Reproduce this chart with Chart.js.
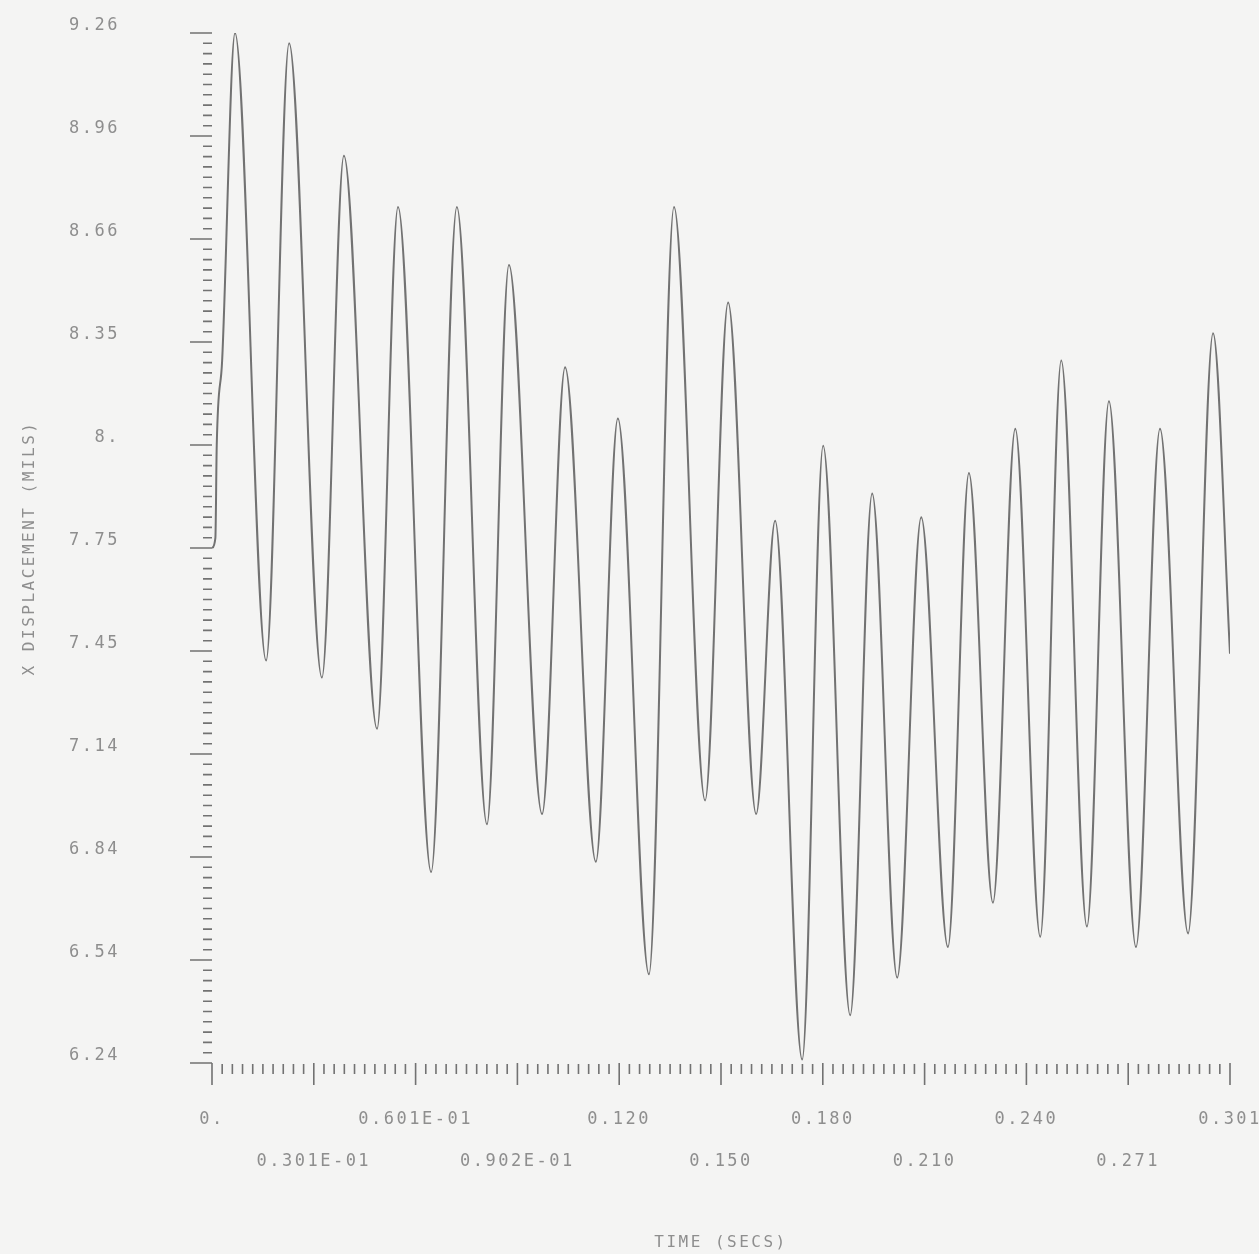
<!DOCTYPE html>
<html>
<head>
<meta charset="utf-8">
<title>X Displacement vs Time</title>
<script src="https://cdn.jsdelivr.net/npm/chart.js@4.4.0/dist/chart.umd.min.js"></script>
<style>
    html, body { margin: 0; padding: 0; background: #f4f4f3; }
    #wrap { width: 1259px; height: 1254px; position: relative; }
</style>
</head>
<body>
<div id="wrap"><canvas id="dispChart"></canvas></div>
<script>
// extrema of the trace (time in secs, displacement in mils)
const timeSecs = [
    0, 0.0010, 0.0014, 0.0030,
    0.0068, 0.0160, 0.0228, 0.0325, 0.0390, 0.0488, 0.0550, 0.0648,
    0.0724, 0.0813, 0.0878, 0.0976, 0.1044, 0.1135, 0.1200, 0.1292,
    0.1366, 0.1458, 0.1526, 0.1609, 0.1665, 0.1745, 0.1807, 0.1887,
    0.1952, 0.2026, 0.2097, 0.2176, 0.2238, 0.2309, 0.2375, 0.2449,
    0.2511, 0.2587, 0.2652, 0.2732, 0.2803, 0.2886, 0.2960, 0.3010
];
const displacementMils = [
    7.75, 7.78, 8.05, 8.30,
    9.26, 7.42, 9.23, 7.37, 8.90, 7.22, 8.75, 6.80,
    8.75, 6.94, 8.58, 6.97, 8.28, 6.83, 8.13, 6.50,
    8.75, 7.01, 8.47, 6.97, 7.83, 6.25, 8.05, 6.38,
    7.91, 6.49, 7.84, 6.58, 7.97, 6.71, 8.10, 6.61,
    8.30, 6.64, 8.18, 6.58, 8.10, 6.62, 8.38, 7.44
];

const xTickValues = [0, 0.0301, 0.0602, 0.0903, 0.1204, 0.1505, 0.1806, 0.2107, 0.2408, 0.2709, 0.301];
const xTickLabels = ['0.', '0.301E-01', '0.601E-01', '0.902E-01', '0.120', '0.150', '0.180', '0.210', '0.240', '0.271', '0.301'];
const yTickValues = [6.24, 6.542, 6.844, 7.146, 7.448, 7.75, 8.052, 8.354, 8.656, 8.958, 9.26];
const yTickLabels = ['6.24', '6.54', '6.84', '7.14', '7.45', '7.75', '8.', '8.35', '8.66', '8.96', '9.26'];

const INK = '#727272';
const TEXT = '#8e8e8e';
const MONO = "'DejaVu Sans Mono', 'Liberation Mono', monospace";

// plotter style tick marks: long majors, 9 short minors between
const plotterTicks = {
    id: 'plotterTicks',
    beforeDraw(chart) {
        chart.ctx.letterSpacing = '2.5px';
    },
    afterDraw(chart) {
        const { ctx, scales: { x, y } } = chart;
        const left = x.left;
        const bottom = y.bottom;
        ctx.save();
        ctx.strokeStyle = INK;
        ctx.lineWidth = 1.6;
        ctx.beginPath();
        for (let i = 0; i < yTickValues.length; i++) {
            const py = y.getPixelForValue(yTickValues[i]);
            ctx.moveTo(left - 22, py);
            ctx.lineTo(left, py);
            if (i < yTickValues.length - 1) {
                const step = (yTickValues[i + 1] - yTickValues[i]) / 10;
                for (let k = 1; k < 10; k++) {
                    const my = y.getPixelForValue(yTickValues[i] + k * step);
                    ctx.moveTo(left - 9, my);
                    ctx.lineTo(left, my);
                }
            }
        }
        for (let i = 0; i < xTickValues.length; i++) {
            const px = x.getPixelForValue(xTickValues[i]);
            ctx.moveTo(px, bottom);
            ctx.lineTo(px, bottom + 22);
            if (i < xTickValues.length - 1) {
                const step = (xTickValues[i + 1] - xTickValues[i]) / 10;
                for (let k = 1; k < 10; k++) {
                    const mx = x.getPixelForValue(xTickValues[i] + k * step);
                    ctx.moveTo(mx, bottom + 1);
                    ctx.lineTo(mx, bottom + 11);
                }
            }
        }
        ctx.stroke();
        ctx.restore();
    }
};

const points = timeSecs.map((t, i) => ({ x: t, y: displacementMils[i] }));

new Chart(document.getElementById('dispChart'), {
    type: 'line',
    data: {
        datasets: [{
            data: points,
            borderColor: INK,
            borderWidth: 2,
            pointRadius: 0,
            fill: false,
            cubicInterpolationMode: 'monotone'
        }]
    },
    options: {
        responsive: true,
        maintainAspectRatio: false,
        animation: false,
        layout: { padding: { top: 33, right: 29, bottom: 0, left: 0 } },
        plugins: { legend: { display: false }, tooltip: { enabled: false } },
        scales: {
            x: {
                type: 'linear',
                min: 0,
                max: 0.301,
                border: { display: false },
                grid: { display: false, drawTicks: false },
                afterBuildTicks: (scale) => { scale.ticks = xTickValues.map(v => ({ value: v })); },
                afterFit: (scale) => {
                    scale.height = 191;
                    scale.paddingLeft = 0;
                    scale.paddingRight = 0;
                },
                ticks: {
                    autoSkip: false,
                    maxRotation: 0,
                    padding: 36,
                    color: TEXT,
                    font: { family: MONO, size: 17, lineHeight: 2.47 },
                    callback: (value, index) => index % 2 === 0 ? [xTickLabels[index], ''] : ['', xTickLabels[index]]
                },
                title: {
                    display: true,
                    text: 'TIME (SECS)',
                    color: TEXT,
                    font: { family: MONO, size: 16 },
                    padding: { top: 0, bottom: 2 }
                }
            },
            y: {
                type: 'linear',
                min: 6.24,
                max: 9.26,
                border: { display: false },
                grid: { display: false, drawTicks: false },
                afterBuildTicks: (scale) => { scale.ticks = yTickValues.map(v => ({ value: v })); },
                afterFit: (scale) => {
                    scale.width = 212;
                    scale.paddingTop = 0;
                    scale.paddingBottom = 0;
                },
                ticks: {
                    autoSkip: false,
                    padding: 92,
                    labelOffset: -7,
                    color: TEXT,
                    font: { family: MONO, size: 17 },
                    callback: (value, index) => yTickLabels[index]
                },
                title: {
                    display: true,
                    text: 'X DISPLACEMENT (MILS)',
                    color: TEXT,
                    font: { family: MONO, size: 16 },
                    padding: { top: 20, bottom: 0 }
                }
            }
        }
    },
    plugins: [plotterTicks]
});
</script>
</body>
</html>
